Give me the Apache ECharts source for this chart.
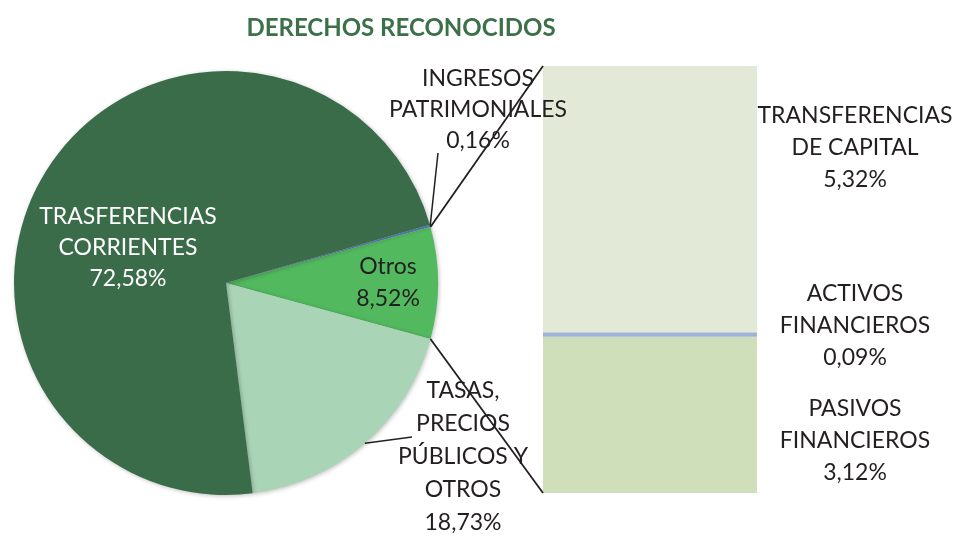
<!DOCTYPE html>
<html>
<head>
<meta charset="utf-8">
<script src="https://cdn.jsdelivr.net/npm/echarts@6/dist/echarts.min.js"></script>
<style>
  html, body { margin: 0; padding: 0; background: #fff; }
  #chart { width: 959px; height: 536px; }
</style>
</head>
<body>
<div id="chart"></div>
<script>
// datos del grafico
var pieNames = ['INGRESOS\nPATRIMONIALES', 'Otros', 'TASAS,\nPRECIOS\nPÚBLICOS Y\nOTROS', 'TRASFERENCIAS\nCORRIENTES'];
var pieValues = [0.16, 8.52, 18.73, 72.58];
var pieColors = ['#5b8ed0', '#52b95f', '#a9d5b6', '#3b6c4a'];

var barNames = ['PASIVOS\nFINANCIEROS', 'ACTIVOS\nFINANCIEROS', 'TRANSFERENCIAS\nDE CAPITAL'];
var barValues = [3.12, 0.09, 5.32];
var barColors = ['#cfdfb9', '#9db4d6', '#e2ead7'];
var barLabelDy = [26, -9, -52];

var FONT = 'Lato, "Open Sans", sans-serif';
var TXT = '#231f20';
var fmt = function (v) { return v.toFixed(2).replace('.', ',') + '%'; };

var pieTotal = pieValues.reduce(function (a, b) { return a + b; }, 0);
var barTotal = barValues.reduce(function (a, b) { return a + b; }, 0);
// Otros centrado en el eje horizontal
var startAngle = (pieValues[1] / pieTotal) * 180 + (pieValues[0] / pieTotal) * 360;

var myChart = echarts.init(document.getElementById('chart'));

var pieCenter = [226, 283];
var pieRadius = 212;

var pieLabelColor = [TXT, TXT, TXT, '#ffffff'];
var pieLineHeight = [31, 32, 33, 31];
// posicion de etiquetas como en el original
var pieLabelPos = [[478, 110], [388, 283], [463, 457], [128, 248]];

var series = [{
    type: 'pie',
    center: pieCenter,
    radius: pieRadius,
    startAngle: startAngle,
    clockwise: true,
    animation: false,
    itemStyle: {
        shadowBlur: 4,
        shadowColor: 'rgba(0,0,0,0.25)',
        shadowOffsetX: 1,
        shadowOffsetY: 1
    },
    labelLine: { show: false },
    labelLayout: function (params) {
        var p = pieLabelPos[params.dataIndex];
        return { x: p[0], y: p[1], align: 'center', verticalAlign: 'middle' };
    },
    data: pieNames.map(function (n, i) {
        return {
            name: n,
            value: pieValues[i],
            itemStyle: { color: pieColors[i] },
            label: {
                show: true,
                position: 'inside',
                align: 'center',
                fontFamily: FONT,
                fontSize: 23,
                lineHeight: pieLineHeight[i],
                color: pieLabelColor[i],
                formatter: '{b}\n' + fmt(pieValues[i])
            }
        };
    })
}];

barNames.forEach(function (n, i) {
    series.push({
        type: 'bar',
        name: n,
        stack: 'otros',
        barWidth: '100%',
        animation: false,
        itemStyle: { color: barColors[i] },
        label: {
            show: true,
            position: 'right',
            distance: 98,
            align: 'center',
            offset: [0, barLabelDy[i]],
            fontFamily: FONT,
            fontSize: 23,
            lineHeight: 32,
            color: TXT,
            formatter: n + '\n' + fmt(barValues[i])
        },
        data: [barValues[i]]
    });
});

var option = {
    backgroundColor: '#ffffff',
    title: {
        text: 'DERECHOS RECONOCIDOS',
        left: 396,
        top: 11,
        textAlign: 'center',
        textStyle: { color: '#3b7048', fontFamily: FONT, fontWeight: 'bold', fontSize: 24 }
    },
    grid: { left: 543, top: 66, width: 214, height: 427 },
    xAxis: { type: 'category', data: ['Otros'], show: false },
    yAxis: { type: 'value', min: 0, max: barTotal, show: false },
    series: series
};
myChart.setOption(option);

// angulos a partir de los datos
var toRad = Math.PI / 180;
function edgePoint(deg) {
    return [pieCenter[0] + pieRadius * Math.cos(deg * toRad), pieCenter[1] - pieRadius * Math.sin(deg * toRad)];
}
var cum = [startAngle];
pieValues.forEach(function (v, i) { cum.push(cum[i] - v / pieTotal * 360); });
var pTop = edgePoint(cum[1]);
var pBot = edgePoint(cum[2]);
var pIng = edgePoint((cum[0] + cum[1]) / 2);
var pTas = edgePoint((cum[2] + cum[3]) / 2);

var barTop = myChart.convertToPixel({ gridIndex: 0 }, [0, barTotal]);
var barBot = myChart.convertToPixel({ gridIndex: 0 }, [0, 0]);
var halfW = 214 / 2;
var lineStyle = { stroke: TXT, lineWidth: 1.8 };
myChart.setOption({
    graphic: [{
        type: 'line',
        shape: { x1: pTop[0], y1: pTop[1], x2: barTop[0] - halfW, y2: barTop[1] },
        style: lineStyle, z: 100
    }, {
        type: 'line',
        shape: { x1: pBot[0], y1: pBot[1], x2: barBot[0] - halfW, y2: barBot[1] },
        style: lineStyle, z: 100
    }, {
        // lineas guia de etiquetas
        type: 'line',
        shape: { x1: pIng[0], y1: pIng[1], x2: 438, y2: 153 },
        style: { stroke: TXT, lineWidth: 1.5 }, z: 100
    }, {
        type: 'line',
        shape: { x1: pTas[0], y1: pTas[1], x2: 412, y2: 437 },
        style: { stroke: TXT, lineWidth: 1.5 }, z: 100
    }]
});
</script>
</body>
</html>
